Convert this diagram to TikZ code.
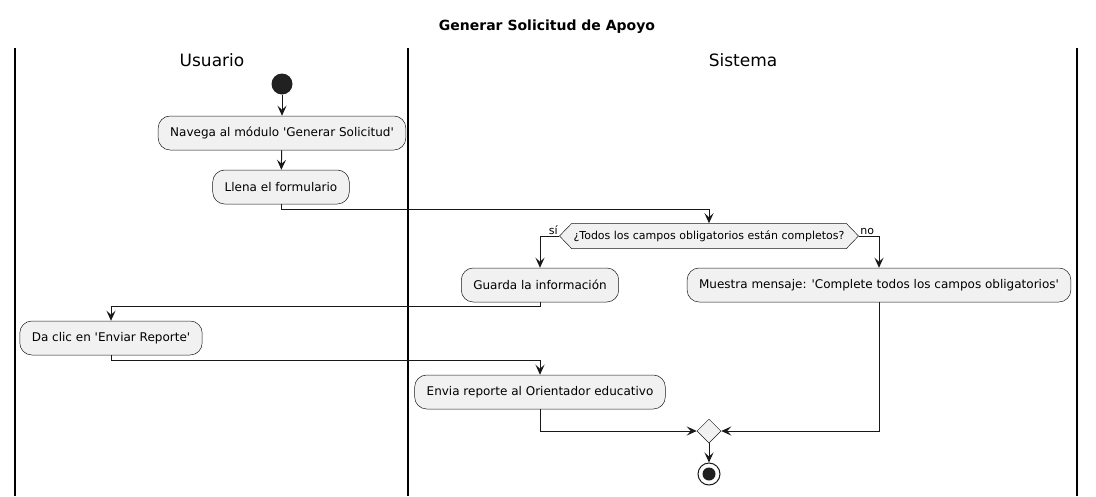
\documentclass[tikz,border=0pt]{standalone}
\usepackage{fontspec}
\setmainfont{DejaVu Sans}[Ligatures=TeXOff]
\usetikzlibrary{arrows.meta,shapes.geometric,shapes.symbols}
\definecolor{boxfill}{HTML}{F1F1F1}
\definecolor{ink}{HTML}{181818}
\begin{document}
\begin{tikzpicture}[x=1pt,y=-1pt,
  act/.style={draw=ink,line width=0.5pt,fill=boxfill,rounded corners=12pt,minimum height=34pt,inner xsep=12pt,font=\fontsize{12}{14}\selectfont},
  cond/.style={draw=ink,line width=0.5pt,fill=boxfill,signal,signal to=west and east,signal pointer angle=92,minimum height=25pt,inner xsep=2pt,inner ysep=0pt,font=\fontsize{11}{13}\selectfont},
  lbl/.style={font=\fontsize{11}{13}\selectfont,inner sep=1pt},
  flow/.style={draw=ink,line width=1pt,-{Stealth[length=10pt,width=9pt,inset=4pt]}},
  lane/.style={line width=1.5pt,black}]
\useasboundingbox (0,0) rectangle (1096,496);
\fill[white] (0,0) rectangle (1096,496);

\node[font=\bfseries\fontsize{14}{16}\selectfont] (title) at (547,27) {Generar Solicitud de Apoyo};
\draw[lane] (15,48) -- (15,496) (408,48) -- (408,496) (1077,48) -- (1077,496);
\node[font=\fontsize{17}{20}\selectfont] (usr) at (212,60) {Usuario};
\node[font=\fontsize{17}{20}\selectfont] (sys) at (743,60) {Sistema};

\node[circle,fill=black!87,minimum size=21pt,inner sep=0pt] (start) at (282,84) {};
\node[act] (nav) at (282,133) {Navega al módulo 'Generar Solicitud'};
\node[act] (fill) at (281,187) {Llena el formulario};
\node[cond] (check) at (709,236) {¿Todos los campos obligatorios están completos?};
\node[act] (save) at (540,285) {Guarda la información};
\node[act] (msg) at (879,285) {Muestra mensaje: 'Complete todos los campos obligatorios'};
\node[act] (clic) at (111,338) {Da clic en 'Enviar Reporte'};
\node[act] (send) at (540,392) {Envia reporte al Orientador educativo};
\node[diamond,draw=ink,line width=0.5pt,fill=boxfill,minimum width=24pt,minimum height=24pt,inner sep=0pt] (merge) at (709,431) {};
\node[circle,draw=ink,line width=1pt,fill=white,minimum size=22pt,inner sep=0pt] (stop) at (709,474) {};
\node[circle,fill=black!87,minimum size=13pt,inner sep=0pt] (stopdot) at (709,474) {};

\draw[flow] (start) -- (nav);
\draw[flow] (nav) -- (fill);
\draw[flow] (fill.south) -- ++(0,5) -| (check.north);
\draw[flow] (check.west) -| (save.north) node[lbl,pos=0,anchor=south east] {sí};
\draw[flow] (check.east) -| (msg.north) node[lbl,pos=0,anchor=south west] {no};
\draw[flow] (save.south) -- ++(0,4) -| (clic.north);
\draw[flow] (clic.south) -- ++(0,5) -| (send.north);
\draw[flow] (send.south) |- (merge.west);
\draw[flow] (msg.south) |- (merge.east);
\draw[flow] (merge.south) -- (stop.north);
\end{tikzpicture}
\end{document}
